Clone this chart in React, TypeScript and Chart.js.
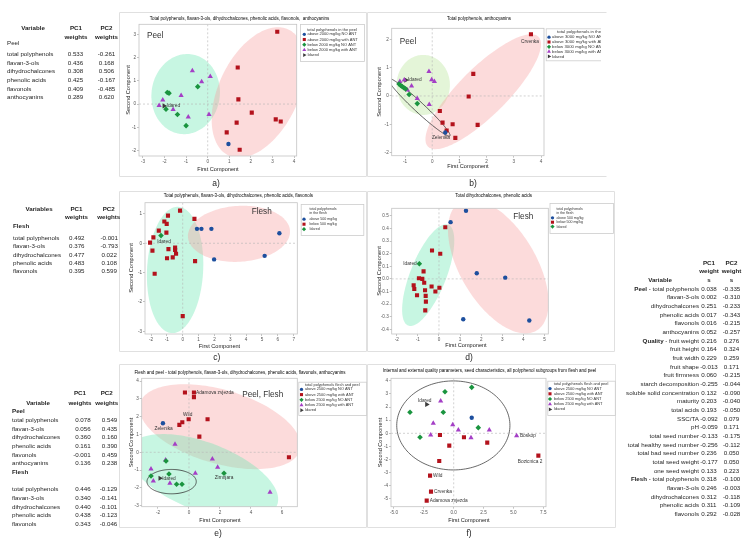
import React, { useEffect, useRef } from 'react';
import { Chart, registerables } from 'chart.js';

Chart.register(...registerables);

type Pt = [number, number];

const W = 751;
const H = 545;
const CF = '"Liberation Sans", Arial, sans-serif';
const TF = '"Liberation Sans", Arial, sans-serif';

const BLUE = '#1d4f9e';
const RED = '#b3121c';
const GREEN = '#1a943f';
const PURPLE = '#a43fc6';
const DARK = '#3b3b3b';
const FILL_GREEN = 'rgba(108, 232, 178, 0.38)';
const FILL_RED = 'rgba(248, 160, 160, 0.38)';
const FILL_LIME = 'rgba(196, 232, 168, 0.45)';

// ---------------- Panel a: peel, all polyphenols ----------------
const aAboveNoAnt: Pt[] = [[0.96, -1.72]];
const aAboveAnt: Pt[] = [[3.22, 3.12], [1.39, 1.58], [1.42, 0.2], [2.04, -0.37], [1.34, -0.8], [3.15, -0.66], [3.38, -0.75], [0.88, -1.22], [1.48, -1.97]];
const aBelowNoAnt: Pt[] = [[-1.87, 0.5], [-1.79, 0.47], [-0.46, 0.75], [-1.93, -0.22], [-1.4, -0.45], [-1.0, -0.93]];
const aBelowAnt: Pt[] = [[-0.71, 1.44], [-0.28, 0.96], [0.12, 1.19], [-1.23, 0.37], [-2.08, 0.17], [-2.25, -0.06], [-1.6, -0.23], [-0.9, -0.56], [0.06, -0.45]];
const aIdared: Pt[] = [[-2.02, -0.08]];
const aXTicks = [-3, -2, -1, 0, 1, 2, 3, 4];
const aYTicks = [-2, -1, 0, 1, 2, 3];
const aLegend = ['above 2000 mg/kg NO ANT', 'above 2000 mg/kg with ANT', 'below 2000 mg/kg NO ANT', 'below 2000 mg/kg with ANT', 'Idared'];

// ---------------- Panel b: peel, total polyphenols + anthocyanins ----------------
const bAboveNoAnt: Pt[] = [[0.48, -1.29]];
const bAboveAnt: Pt[] = [[3.63, 2.18], [1.51, 0.78], [1.34, -0.02], [0.28, -0.53], [0.38, -0.94], [0.75, -1.0], [1.67, -1.02], [0.53, -1.22], [0.85, -1.48]];
const bBelowNoAnt: Pt[] = [[-1.22, 0.42], [-1.16, 0.37], [-1.1, 0.33], [-1.04, 0.29], [-0.98, 0.25], [-0.85, 0.05], [-0.55, -0.27]];
const bBelowAnt: Pt[] = [[-1.19, 0.51], [-1.03, 0.56], [-0.91, 0.21], [-0.76, 0.35], [-0.12, 0.86], [-0.02, 0.57], [0.08, 0.51], [-0.55, -0.09], [-0.11, -0.3]];
const bIdared: Pt[] = [[-0.97, 0.56]];
const bXTicks = [-1, 0, 1, 2, 3, 4];
const bYTicks = [-2, -1, 0, 1, 2];
const bLegend = ['above 3000 mg/kg NO ANT', 'above 3000 mg/kg with ANT', 'below 3000 mg/kg NO ANT', 'below 3000 mg/kg with ANT', 'Idared'];

// ---------------- Panel c: flesh, all polyphenols ----------------
const cAbove: Pt[] = [[0.9, 0.49], [1.18, 0.49], [1.81, 0.49], [6.1, 0.34], [1.98, -0.55], [5.17, -0.43]];
const cBelow: Pt[] = [[-0.17, 1.11], [-0.93, 0.94], [-1.16, 0.74], [-1.01, 0.66], [0.74, 0.83], [-1.51, 0.43], [-1.03, 0.36], [-1.85, 0.2], [-2.06, 0.02], [-1.91, -0.25], [-0.9, -0.2], [-0.48, -0.15], [-0.48, -0.23], [-0.42, -0.36], [-0.63, -0.48], [-0.99, -0.51], [0.78, -0.61], [-1.77, -1.04], [0.0, -2.48]];
const cIdared: Pt[] = [[-1.37, 0.26]];
const cXTicks = [-2, -1, 0, 1, 2, 3, 4, 5, 6, 7];
const cYTicks = [-3, -2, -1, 0, 1];
const cLegend = ['above 500 mg/kg', 'below 500 mg/kg', 'Idared'];

// ---------------- Panel d: flesh, dihydrochalcones + phenolic acids ----------------
const dAbove: Pt[] = [[1.28, 0.54], [0.55, 0.45], [1.79, 0.045], [3.14, 0.01], [1.15, -0.32], [4.28, -0.33]];
const dBelow: Pt[] = [[0.3, 0.41], [-0.33, 0.225], [0.06, 0.2], [-0.73, 0.06], [-0.95, 0.005], [-0.79, 0.0], [-0.7, -0.03], [-1.2, -0.05], [-1.17, -0.08], [-0.35, -0.06], [0.02, -0.07], [-0.66, -0.09], [-0.17, -0.1], [-1.04, -0.13], [-0.63, -0.135], [-0.62, -0.18], [-0.65, -0.25]];
const dIdared: Pt[] = [[-0.93, 0.12]];
const dXTicks = [-2, -1, 0, 1, 2, 3, 4, 5];
const dYTicks = [-0.4, -0.3, -0.2, -0.1, 0, 0.1, 0.2, 0.3, 0.4, 0.5];

// ---------------- Panel e: flesh and peel ----------------
const eAboveNoAnt: Pt[] = [[-1.68, 1.63]];
const eAboveAnt: Pt[] = [[-0.26, 3.36], [0.32, 3.36], [0.32, 3.1], [-0.02, 1.86], [-0.43, 1.69], [-0.62, 1.54], [1.2, 1.86], [0.67, 0.88], [6.45, -0.28]];
const eBelowNoAnt: Pt[] = [[-1.48, -0.49], [-2.45, -1.33], [-1.29, -1.22], [-0.8, -1.8], [-0.45, -1.8], [2.26, -1.18]];
const eBelowAnt: Pt[] = [[-0.9, 0.45], [-1.51, -0.43], [-2.45, -0.94], [-2.3, -1.61], [-1.23, -1.74], [0.41, -1.18], [1.51, -0.38], [1.85, -0.84], [5.23, -2.25]];
const eIdared: Pt[] = [[-1.87, -1.46]];
const eXTicks = [-2, 0, 2, 4, 6];
const eYTicks = [-3, -2, -1, 0, 1, 2, 3, 4];
const efLegend = ['above 2500 mg/kg NO ANT', 'above 2500 mg/kg with ANT', 'below 2500 mg/kg NO ANT', 'below 2500 mg/kg with ANT', 'Idared'];

// ---------------- Panel f: quality + seeds + polyphenols ----------------
const fAboveNoAnt: Pt[] = [[1.51, 1.19]];
const fAboveAnt: Pt[] = [[-1.15, -0.13], [-1.21, -2.11], [-1.98, -3.22], [-1.9, -4.44], [-2.26, -5.13], [0.86, -0.3], [-0.37, -0.94], [2.81, -0.71], [7.09, -1.7]];
const fBelowNoAnt: Pt[] = [[-3.66, 1.6], [-2.82, -0.3], [-0.87, 1.6], [-0.73, 3.17], [1.51, 3.5], [2.06, 0.43]];
const fBelowAnt: Pt[] = [[-1.09, 2.46], [-1.71, 0.76], [-1.93, -0.13], [-0.08, 0.65], [0.39, 0.25], [2.98, 0.25], [1.45, -0.33], [5.27, -0.18]];
const fIdared: Pt[] = [[-2.26, 2.2]];
const fXTicks = [-5, -2.5, 0, 2.5, 5, 7.5];
const fYTicks = [-5, -4, -3, -2, -1, 0, 1, 2, 3, 4];

// ---------------- Tables ----------------
const peelVars = ['total polyphenols', 'flavan-3-ols', 'dihydrochalcones', 'phenolic acids', 'flavonols', 'anthocyanins'];
const fleshVars = ['total polyphenols', 'flavan-3-ols', 'dihydrochalcones', 'phenolic acids', 'flavonols'];
const t1PC1 = [0.533, 0.436, 0.308, 0.425, 0.409, 0.289];
const t1PC2 = [-0.261, 0.168, 0.506, -0.167, -0.485, 0.62];
const t2PC1 = [0.492, 0.376, 0.477, 0.483, 0.395];
const t2PC2 = [-0.001, -0.793, 0.022, 0.108, 0.599];
const t3PeelPC1 = [0.078, 0.056, 0.36, 0.161, -0.001, 0.136];
const t3PeelPC2 = [0.549, 0.435, 0.16, 0.39, 0.459, 0.238];
const t3FleshPC1 = [0.446, 0.34, 0.44, 0.438, 0.343];
const t3FleshPC2 = [-0.129, -0.141, -0.101, -0.123, -0.046];
const qualityVars = ['fruit weight', 'fruit height', 'fruit width', 'fruit shape', 'fruit firmness', 'starch decomposition', 'soluble solid concentration', 'maturity', 'total acids', 'SSC/TA', 'pH', 'total seed number', 'total healthy seed number', 'total bad seed number', 'total seed weight', 'one seed weight'];
const t4PeelPC1 = [0.038, 0.002, 0.251, 0.017, 0.016, 0.052];
const t4PeelPC2 = [-0.335, -0.31, -0.233, -0.343, -0.215, -0.257];
const t4QualPC1 = [0.216, 0.164, 0.229, -0.013, 0.06, -0.255, 0.132, 0.203, 0.193, -0.092, -0.059, -0.133, -0.256, 0.236, -0.177, 0.133];
const t4QualPC2 = [0.276, 0.324, 0.259, 0.171, -0.215, -0.044, -0.09, -0.04, -0.05, 0.079, 0.171, -0.175, -0.112, 0.05, 0.05, 0.223];
const t4FleshPC1 = [0.318, 0.246, 0.312, 0.311, 0.292];
const t4FleshPC2 = [-0.1, -0.003, -0.118, -0.109, -0.028];

// ---------------- types / helpers ----------------
interface Series { data: Pt[]; color: string; shape: string; r: number }
interface Ell { c: Pt; a: Pt; b: Pt; fill?: string; stroke?: string }
interface Lbl { at: Pt; text: string; dx: number; dy: number; align: CanvasTextAlign }
interface Leg {
  box: [number, number, number, number]; clipR?: number;
  title: string[]; titleAlign: 'center' | 'left'; titleY: number; titleLH: number;
  itemY: number; lh: number; mX: number; tX: number; fs: number;
  items: { label: string; color: string; shape: string }[];
}
interface Panel {
  frame: [number, number, number, number]; clipR?: number;
  area: [number, number, number, number];
  xr: Pt; yr: Pt; xt: number[]; yt: number[]; xd: number; yd: number;
  title: string; tx: number; ty: number;
  xtx: number; xty: number; ytx: number; yty: number;
  series: Series[]; ells: Ell[]; lbls: Lbl[];
  big: { text: string; at: Pt };
  legend: Leg;
}

const rFor = (shape: string) => (shape === 'rect' ? 2.9 : shape === 'circle' ? 2.2 : shape === 'rectRot' ? 2.8 : 3.0);
const S = (data: Pt[], color: string, shape: string): Series => ({ data, color, shape, r: rFor(shape) });

function marker(ctx: CanvasRenderingContext2D, shape: string, x: number, y: number, r: number, color: string) {
  ctx.fillStyle = color;
  ctx.beginPath();
  if (shape === 'circle') ctx.arc(x, y, r, 0, Math.PI * 2);
  else if (shape === 'rect') { const s = r * Math.SQRT1_2; ctx.rect(x - s, y - s, 2 * s, 2 * s); }
  else if (shape === 'rectRot') { ctx.moveTo(x, y - r); ctx.lineTo(x + r, y); ctx.lineTo(x, y + r); ctx.lineTo(x - r, y); ctx.closePath(); }
  else {
    let rad = shape === 'triR' ? Math.PI / 2 : 0;
    for (let i = 0; i < 3; i++) {
      const px = x + Math.sin(rad) * r, py = y - Math.cos(rad) * r;
      if (i === 0) ctx.moveTo(px, py); else ctx.lineTo(px, py);
      rad += (2 * Math.PI) / 3;
    }
    ctx.closePath();
  }
  ctx.fill();
}

function txt(ctx: CanvasRenderingContext2D, s: string, x: number, y: number, size: number, align: CanvasTextAlign = 'center', color = '#222', weight = '') {
  ctx.font = `${weight ? weight + ' ' : ''}${size}px ${CF}`;
  ctx.fillStyle = color;
  ctx.textAlign = align;
  ctx.textBaseline = 'middle';
  ctx.fillText(s, x, y);
}

function decor(p: Panel) {
  return {
    id: 'decor',
    beforeDraw(chart: any) {
      const ctx: CanvasRenderingContext2D = chart.ctx;
      const [fx, fy, fw, fh] = p.frame;
      ctx.save();
      ctx.strokeStyle = '#e0e0e0';
      ctx.lineWidth = 1;
      ctx.beginPath();
      ctx.moveTo(fx + fw - 0.5, fy + 0.5);
      ctx.lineTo(fx + 0.5, fy + 0.5);
      ctx.lineTo(fx + 0.5, fy + fh - 0.5);
      ctx.lineTo(fx + fw - 0.5, fy + fh - 0.5);
      if (!p.clipR) ctx.lineTo(fx + fw - 0.5, fy + 0.5);
      ctx.stroke();
      ctx.restore();
    },
    beforeDatasetsDraw(chart: any) {
      const ctx: CanvasRenderingContext2D = chart.ctx;
      const a = chart.chartArea;
      const xs = chart.scales.x, ys = chart.scales.y;
      ctx.save();
      ctx.beginPath();
      ctx.rect(a.left, a.top, a.right - a.left, a.bottom - a.top);
      ctx.clip();
      for (const e of p.ells) {
        ctx.beginPath();
        const n = 144;
        for (let i = 0; i <= n; i++) {
          const t = (i / n) * Math.PI * 2;
          const vx = e.c[0] + e.a[0] * Math.cos(t) + e.b[0] * Math.sin(t);
          const vy = e.c[1] + e.a[1] * Math.cos(t) + e.b[1] * Math.sin(t);
          const px = xs.getPixelForValue(vx), py = ys.getPixelForValue(vy);
          if (i === 0) ctx.moveTo(px, py); else ctx.lineTo(px, py);
        }
        ctx.closePath();
        if (e.fill) { ctx.fillStyle = e.fill; ctx.fill(); }
        if (e.stroke) { ctx.strokeStyle = e.stroke; ctx.lineWidth = 0.8; ctx.stroke(); }
      }
      const x0 = xs.getPixelForValue(0), y0 = ys.getPixelForValue(0);
      ctx.setLineDash([2, 2]);
      ctx.strokeStyle = '#b4b4b4';
      ctx.lineWidth = 0.6;
      ctx.beginPath();
      ctx.moveTo(x0, a.top); ctx.lineTo(x0, a.bottom);
      ctx.moveTo(a.left, y0); ctx.lineTo(a.right, y0);
      ctx.stroke();
      ctx.restore();
    },
    afterDatasetsDraw(chart: any) {
      const ctx: CanvasRenderingContext2D = chart.ctx;
      const xs = chart.scales.x, ys = chart.scales.y;
      ctx.save();
      for (const l of p.lbls) {
        const px = xs.getPixelForValue(l.at[0]), py = ys.getPixelForValue(l.at[1]);
        txt(ctx, l.text, px + l.dx, py + l.dy, 4.8, l.align, '#333');
      }
      if (p.big.text) txt(ctx, p.big.text, xs.getPixelForValue(p.big.at[0]), ys.getPixelForValue(p.big.at[1]), 8.2, 'left', '#333');
      ctx.restore();
    },
    afterDraw(chart: any) {
      const ctx: CanvasRenderingContext2D = chart.ctx;
      const a = chart.chartArea;
      ctx.save();
      ctx.strokeStyle = '#c4c4c4';
      ctx.lineWidth = 0.8;
      ctx.strokeRect(a.left, a.top, a.right - a.left, a.bottom - a.top);
      txt(ctx, p.title, p.tx, p.ty, 4.5, 'center', '#000');
      txt(ctx, 'First Component', p.xtx, p.xty, 5.6, 'center', '#222');
      ctx.save();
      ctx.translate(p.ytx, p.yty);
      ctx.rotate(-Math.PI / 2);
      txt(ctx, 'Second Component', 0, 0, 5.6, 'center', '#222');
      ctx.restore();
      const lg = p.legend;
      if (lg.clipR) { ctx.beginPath(); ctx.rect(0, 0, lg.clipR, H); ctx.clip(); }
      const [bx, by, bw, bh] = lg.box;
      ctx.strokeStyle = '#cdcdcd';
      ctx.lineWidth = 0.8;
      ctx.strokeRect(bx + 0.5, by + 0.5, bw, bh);
      lg.title.forEach((t, i) => txt(ctx, t, lg.titleAlign === 'center' ? bx + bw / 2 : lg.tX, lg.titleY + i * lg.titleLH, lg.fs, lg.titleAlign === 'center' ? 'center' : 'left', '#333'));
      lg.items.forEach((it, i) => {
        const yy = lg.itemY + i * lg.lh;
        marker(ctx, it.shape, lg.mX, yy, rFor(it.shape) * 0.75, it.color);
        txt(ctx, it.label, lg.tX, yy, lg.fs, 'left', '#333');
      });
      ctx.restore();
    },
  };
}

const fiveItems = (labels: string[]) => [
  { label: labels[0], color: BLUE, shape: 'circle' },
  { label: labels[1], color: RED, shape: 'rect' },
  { label: labels[2], color: GREEN, shape: 'rectRot' },
  { label: labels[3], color: PURPLE, shape: 'triangle' },
  { label: labels[4], color: DARK, shape: 'triR' },
];
const threeItems = (labels: string[]) => [
  { label: labels[0], color: BLUE, shape: 'circle' },
  { label: labels[1], color: RED, shape: 'rect' },
  { label: labels[2], color: GREEN, shape: 'rectRot' },
];

const PANELS: Panel[] = [
  {
    frame: [119, 12, 248, 165], area: [139, 24.3, 296.7, 156],
    xr: [-3.18, 4.12], yr: [-2.24, 3.44], xt: aXTicks, yt: aYTicks, xd: 0, yd: 0,
    title: 'Total polyphenols, flavan-3-ols, dihydrochalcones, phenolic acids, flavonols,  anthocyanins', tx: 239.5, ty: 18.3,
    xtx: 218, xty: 169.3, ytx: 128.3, yty: 90,
    series: [S(aAboveNoAnt, BLUE, 'circle'), S(aAboveAnt, RED, 'rect'), S(aBelowNoAnt, GREEN, 'rectRot'), S(aBelowAnt, PURPLE, 'triangle'), S(aIdared, DARK, 'triR')],
    ells: [
      { c: [-1.02, 0.43], a: [0.23, 1.72], b: [1.57, -0.17], fill: FILL_GREEN },
      { c: [2.35, 0.5], a: [1.38, 2.72], b: [1.67, -0.73], fill: FILL_RED },
    ],
    lbls: [{ at: aIdared[0], text: 'Idared', dx: 2.5, dy: 0, align: 'left' }],
    big: { text: 'Peel', at: [-2.81, 2.94] },
    legend: { box: [300, 24, 64, 37], title: ['total polyphenols in the peel'], titleAlign: 'center', titleY: 29.5, titleLH: 4, itemY: 34.3, lh: 5.2, mX: 304.3, tX: 307.5, fs: 4.0, items: fiveItems(aLegend) },
  },
  {
    frame: [367, 12, 240, 165], clipR: 601, area: [391.7, 28.3, 544, 155.7],
    xr: [-1.49, 4.11], yr: [-2.11, 2.39], xt: bXTicks, yt: bYTicks, xd: 0, yd: 0,
    title: 'Total polyphenols, anthocyanins', tx: 479, ty: 18.3,
    xtx: 468, xty: 166.7, ytx: 379.3, yty: 92,
    series: [S(bAboveNoAnt, BLUE, 'circle'), S(bAboveAnt, RED, 'rect'), S(bBelowNoAnt, GREEN, 'rectRot'), S(bBelowAnt, PURPLE, 'triangle'), S(bIdared, DARK, 'triR')],
    ells: [
      { c: [-0.33, 0.39], a: [0, 1.06], b: [0.98, 0], fill: FILL_LIME },
      { c: [1.875, 0.15], a: [2.03, 1.94], b: [0.625, -0.596], fill: FILL_RED },
      { c: [-0.485, -0.395], a: [1.135, -1.015], b: [0.125, 0.129], stroke: '#333' },
    ],
    lbls: [
      { at: bAboveAnt[0], text: 'Crvenka', dx: -1, dy: 7, align: 'center' },
      { at: bAboveNoAnt[0], text: 'Zelenika', dx: -4.3, dy: 5.3, align: 'center' },
      { at: bIdared[0], text: 'Idared', dx: 2.2, dy: 0, align: 'left' },
    ],
    big: { text: 'Peel', at: [-1.19, 1.92] },
    legend: { box: [545.7, 28.3, 76, 32], clipR: 601, title: ['total polyphenols in the peel'], titleAlign: 'center', titleY: 32.3, titleLH: 4, itemY: 37.2, lh: 4.8, mX: 549, tX: 552, fs: 4.3, items: fiveItems(bLegend) },
  },
  {
    frame: [119, 191, 248, 161], area: [145, 202.7, 297.3, 334],
    xr: [-2.38, 7.23], yr: [-3.09, 1.38], xt: cXTicks, yt: cYTicks, xd: 0, yd: 0,
    title: 'Total polyphenols, flavan-3-ols, dihydrochalcones, phenolic acids, flavonols', tx: 238.3, ty: 195.7,
    xtx: 219.5, xty: 346, ytx: 131.7, yty: 268,
    series: [S(cAbove, BLUE, 'circle'), S(cBelow, RED, 'rect'), S(cIdared, GREEN, 'rectRot')],
    ells: [
      { c: [-0.48, -0.91], a: [0.19, 2.15], b: [1.77, -0.03], fill: FILL_GREEN },
      { c: [3.55, 0.32], a: [3.22, 0.1], b: [0.09, -0.95], fill: FILL_RED },
    ],
    lbls: [{ at: cIdared[0], text: 'Idared', dx: 3, dy: 6, align: 'center' }],
    big: { text: 'Flesh', at: [4.35, 1.06] },
    legend: { box: [300.7, 204, 62.6, 31], title: ['total polyphenols', 'in the flesh'], titleAlign: 'left', titleY: 209.3, titleLH: 4, itemY: 219.2, lh: 5, mX: 304, tX: 309.5, fs: 3.6, items: threeItems(cLegend) },
  },
  {
    frame: [367, 191, 248, 161], area: [391.7, 208.3, 548.3, 334],
    xr: [-2.24, 5.18], yr: [-0.437, 0.56], xt: dXTicks, yt: dYTicks, xd: 0, yd: 1,
    title: 'Total dihydrochalcones, phenolic acids', tx: 493.7, ty: 195.7,
    xtx: 466, xty: 345, ytx: 379.3, yty: 271,
    series: [S(dAbove, BLUE, 'circle'), S(dBelow, RED, 'rect'), S(dIdared, GREEN, 'rectRot')],
    ells: [
      { c: [-0.51, 0.03], a: [0.95, 0.4], b: [0.79, -0.053], fill: FILL_GREEN },
      { c: [2.81, 0.1], a: [-1.81, 0.51], b: [1.55, 0.153], fill: FILL_RED },
    ],
    lbls: [{ at: dIdared[0], text: 'Idared', dx: -2.6, dy: 0, align: 'right' }],
    big: { text: 'Flesh', at: [3.52, 0.49] },
    legend: { box: [549.5, 203, 63.5, 30], title: ['total polyphenols', 'in the flesh'], titleAlign: 'left', titleY: 208.6, titleLH: 4, itemY: 217.8, lh: 4.4, mX: 552.5, tX: 556.5, fs: 3.5, items: threeItems(cLegend) },
  },
  {
    frame: [119, 364, 248, 164], area: [141.7, 378.3, 297.3, 506.7],
    xr: [-3.05, 6.99], yr: [-3.06, 4.16], xt: eXTicks, yt: eYTicks, xd: 0, yd: 0,
    title: 'Flesh and peel - total polyphenols, flavan-3-ols, dihydrochalcones, phenolic acids, flavonols, anthocyanins', tx: 240, ty: 372.7,
    xtx: 220, xty: 520, ytx: 131, yty: 442.5,
    series: [S(eAboveNoAnt, BLUE, 'circle'), S(eAboveAnt, RED, 'rect'), S(eBelowNoAnt, GREEN, 'rectRot'), S(eBelowAnt, PURPLE, 'triangle'), S(eIdared, DARK, 'triR')],
    ells: [
      { c: [2.0, 1.44], a: [-5.16, 1.32], b: [0.67, 1.99], fill: FILL_RED },
      { c: [0.92, -1.37], a: [4.77, -1.59], b: [0.79, 1.79], fill: FILL_GREEN },
      { c: [-1.12, -1.65], a: [1.59, 0], b: [0, 0.685], stroke: '#333' },
    ],
    lbls: [
      { at: eAboveAnt[1], text: 'Adamova zvjezda', dx: 2, dy: 0, align: 'left' },
      { at: eAboveAnt[3], text: 'Wild', dx: -1, dy: -4.6, align: 'center' },
      { at: eAboveNoAnt[0], text: 'Zelenika', dx: 0.7, dy: 5.7, align: 'center' },
      { at: eBelowNoAnt[5], text: 'Zimnjara', dx: 0, dy: 4.6, align: 'center' },
      { at: eIdared[0], text: 'Idared', dx: 2.2, dy: 0.4, align: 'left' },
    ],
    big: { text: 'Peel, Flesh', at: [3.44, 3.26] },
    legend: { box: [298.3, 381.7, 68, 33.3], title: ['total polyphenols flesh and peel'], titleAlign: 'center', titleY: 384.6, titleLH: 4, itemY: 389.4, lh: 5.2, mX: 301.5, tX: 305, fs: 3.9, items: fiveItems(efLegend) },
  },
  {
    frame: [367, 364, 249, 164], area: [391, 378.3, 546, 506.7],
    xr: [-5.25, 7.73], yr: [-5.59, 4.19], xt: fXTicks, yt: fYTicks, xd: 1, yd: 0,
    title: 'Internal and external quality parameters, seed characteristics, all polyphenol subgroups from flesh and peel', tx: 489.5, ty: 371,
    xtx: 469, xty: 520.7, ytx: 380, yty: 442.5,
    series: [S(fAboveNoAnt, BLUE, 'circle'), S(fAboveAnt, RED, 'rect'), S(fBelowNoAnt, GREEN, 'rectRot'), S(fBelowAnt, PURPLE, 'triangle'), S(fIdared, DARK, 'triR')],
    ells: [{ c: [-0.03, 0.6], a: [4.74, 0], b: [0, 3.39], stroke: '#444' }],
    lbls: [
      { at: fIdared[0], text: 'Idared', dx: -2, dy: -4.2, align: 'center' },
      { at: fAboveAnt[2], text: 'Wild', dx: 3, dy: 0, align: 'left' },
      { at: fAboveAnt[3], text: 'Crvenka', dx: 3, dy: 0, align: 'left' },
      { at: fAboveAnt[4], text: 'Adamova zvjezda', dx: 3, dy: 0, align: 'left' },
      { at: fBelowAnt[7], text: 'Boskop', dx: 3.3, dy: 0, align: 'left' },
      { at: fAboveAnt[8], text: 'Bozicnica 2', dx: -8.3, dy: 6, align: 'center' },
    ],
    big: { text: '', at: [0, 0] },
    legend: { box: [547.3, 380.7, 67.5, 34.3], title: ['total polyphenols flesh and peel'], titleAlign: 'center', titleY: 383.6, titleLH: 4, itemY: 388.6, lh: 5.2, mX: 550, tX: 554, fs: 3.9, items: fiveItems(efLegend) },
  },
];

function PanelChart({ p }: { p: Panel }) {
  const ref = useRef<HTMLCanvasElement>(null);
  useEffect(() => {
    const cv = ref.current;
    if (!cv) return;
    const WY = 20, HX = 12;
    const [L, T, R, B] = p.area;
    const tickFont = { family: CF, size: 4.6 };
    const grid = { display: true, drawOnChartArea: false, drawTicks: true, tickLength: 2, color: '#9a9a9a', lineWidth: 0.6 };
    const chart = new Chart(cv, {
      type: 'scatter',
      data: {
        datasets: p.series.map((s) => ({
          data: s.data.map(([x, y]) => ({ x, y })),
          pointStyle: s.shape === 'triR' ? 'triangle' : s.shape,
          pointRotation: s.shape === 'triR' ? 90 : 0,
          pointRadius: s.r,
          pointBackgroundColor: s.color,
          pointBorderColor: s.color,
          pointBorderWidth: 0,
          showLine: false,
        })),
      },
      options: {
        responsive: false,
        animation: false,
        devicePixelRatio: 1,
        events: [],
        layout: { padding: { left: L - WY, top: T, right: W - R, bottom: H - B - HX } },
        plugins: { legend: { display: false }, tooltip: { enabled: false }, title: { display: false } },
        scales: {
          x: {
            type: 'linear', min: p.xr[0], max: p.xr[1],
            afterFit: (s: any) => { s.height = HX; },
            afterBuildTicks: (s: any) => { s.ticks = p.xt.map((v) => ({ value: v })); },
            ticks: { font: tickFont, color: '#555', padding: 1, maxRotation: 0, autoSkip: false, callback: (v: any) => Number(v).toFixed(p.xd) },
            grid, border: { display: false },
          },
          y: {
            type: 'linear', min: p.yr[0], max: p.yr[1],
            afterFit: (s: any) => { s.width = WY; },
            afterBuildTicks: (s: any) => { s.ticks = p.yt.map((v) => ({ value: v })); },
            ticks: { font: tickFont, color: '#555', padding: 1, autoSkip: false, callback: (v: any) => Number(v).toFixed(p.yd) },
            grid, border: { display: false },
          },
        },
      } as any,
      plugins: [decor(p) as any],
    });
    return () => chart.destroy();
  }, [p]);
  return <canvas ref={ref} width={W} height={H} style={{ position: 'absolute', left: 0, top: 0, width: W, height: H }} />;
}

function Tx({ x, y, a = 'l', b = false, fs = 6.2, children }: { x: number; y: number; a?: string; b?: boolean; fs?: number; children: any }) {
  const tx = a === 'c' ? '-50%' : a === 'r' ? '-100%' : '0';
  return (
    <div style={{ position: 'absolute', left: x, top: y, transform: `translate(${tx}, -50%)`, fontFamily: TF, fontSize: fs, lineHeight: 1, whiteSpace: 'nowrap', fontWeight: b ? 700 : 400, color: '#262626' }}>
      {children}
    </div>
  );
}

const f3 = (v: number) => v.toFixed(3);

function Tables() {
  const els: any[] = [];
  // table 1 (a)
  els.push(<Tx key="t1h1" x={33} y={28.3} a="c" b>Variable</Tx>);
  els.push(<Tx key="t1h2" x={76} y={28.3} a="c" b>PC1</Tx>);
  els.push(<Tx key="t1h3" x={76} y={37} a="c" b>weights</Tx>);
  els.push(<Tx key="t1h4" x={106.5} y={28.3} a="c" b>PC2</Tx>);
  els.push(<Tx key="t1h5" x={106.5} y={37} a="c" b>weights</Tx>);
  els.push(<Tx key="t1p" x={7} y={43.3}>Peel</Tx>);
  peelVars.forEach((v, i) => {
    const y = 54 + i * 8.67;
    els.push(<Tx key={'t1l' + i} x={7} y={y}>{v}</Tx>);
    els.push(<Tx key={'t1a' + i} x={75.5} y={y} a="c">{f3(t1PC1[i])}</Tx>);
    els.push(<Tx key={'t1b' + i} x={106.5} y={y} a="c">{f3(t1PC2[i])}</Tx>);
  });
  // table 2 (c)
  els.push(<Tx key="t2h1" x={39} y={209.3} a="c" b>Variables</Tx>);
  els.push(<Tx key="t2h2" x={76.5} y={209.3} a="c" b>PC1</Tx>);
  els.push(<Tx key="t2h3" x={76.5} y={217.3} a="c" b>weights</Tx>);
  els.push(<Tx key="t2h4" x={108.7} y={209.3} a="c" b>PC2</Tx>);
  els.push(<Tx key="t2h5" x={108.7} y={217.3} a="c" b>weights</Tx>);
  els.push(<Tx key="t2f" x={13} y={226} b>Flesh</Tx>);
  fleshVars.forEach((v, i) => {
    const y = 237.7 + i * 8.42;
    els.push(<Tx key={'t2l' + i} x={13} y={y}>{v}</Tx>);
    els.push(<Tx key={'t2a' + i} x={76.8} y={y} a="c">{f3(t2PC1[i])}</Tx>);
    els.push(<Tx key={'t2b' + i} x={109.2} y={y} a="c">{f3(t2PC2[i])}</Tx>);
  });
  // table 3 (e)
  els.push(<Tx key="t3h1" x={80} y={393.3} a="c" b>PC1</Tx>);
  els.push(<Tx key="t3h2" x={80} y={402.7} a="c" b>weights</Tx>);
  els.push(<Tx key="t3h3" x={106.7} y={393.3} a="c" b>PC2</Tx>);
  els.push(<Tx key="t3h4" x={106.7} y={402.7} a="c" b>weights</Tx>);
  els.push(<Tx key="t3h5" x={38} y={402.7} a="c" b>Variable</Tx>);
  els.push(<Tx key="t3p" x={12} y={411.3} b>Peel</Tx>);
  peelVars.forEach((v, i) => {
    const y = 420 + i * 8.67;
    els.push(<Tx key={'t3l' + i} x={12} y={y}>{v}</Tx>);
    els.push(<Tx key={'t3a' + i} x={90.7} y={y} a="r">{f3(t3PeelPC1[i])}</Tx>);
    els.push(<Tx key={'t3b' + i} x={117.3} y={y} a="r">{f3(t3PeelPC2[i])}</Tx>);
  });
  els.push(<Tx key="t3f" x={12} y={472} b>Flesh</Tx>);
  fleshVars.forEach((v, i) => {
    const y = 489.3 + i * 8.67;
    els.push(<Tx key={'t3m' + i} x={12} y={y}>{v}</Tx>);
    els.push(<Tx key={'t3c' + i} x={90.7} y={y} a="r">{f3(t3FleshPC1[i])}</Tx>);
    els.push(<Tx key={'t3d' + i} x={117.3} y={y} a="r">{f3(t3FleshPC2[i])}</Tx>);
  });
  // table 4 (f)
  els.push(<Tx key="t4h1" x={709} y={262.7} a="c" b>PC1</Tx>);
  els.push(<Tx key="t4h2" x={709} y={271.3} a="c" b>weight</Tx>);
  els.push(<Tx key="t4h3" x={709} y={280} a="c" b>s</Tx>);
  els.push(<Tx key="t4h4" x={731.5} y={262.7} a="c" b>PC2</Tx>);
  els.push(<Tx key="t4h5" x={731.5} y={271.3} a="c" b>weight</Tx>);
  els.push(<Tx key="t4h6" x={731.5} y={280} a="c" b>s</Tx>);
  els.push(<Tx key="t4h7" x={660} y={280} a="c" b>Variable</Tx>);
  const rows: { pre?: string; label: string; p1: number; p2: number }[] = [];
  peelVars.forEach((v, i) => rows.push({ pre: i === 0 ? 'Peel' : undefined, label: v, p1: t4PeelPC1[i], p2: t4PeelPC2[i] }));
  qualityVars.forEach((v, i) => rows.push({ pre: i === 0 ? 'Quality' : undefined, label: v, p1: t4QualPC1[i], p2: t4QualPC2[i] }));
  fleshVars.forEach((v, i) => rows.push({ pre: i === 0 ? 'Flesh' : undefined, label: v, p1: t4FleshPC1[i], p2: t4FleshPC2[i] }));
  rows.forEach((r, i) => {
    const y = 288.7 + i * 8.67;
    els.push(
      <Tx key={'t4l' + i} x={699} y={y} a="r">
        {r.pre ? <b>{r.pre}</b> : null}
        {r.pre ? ' - ' : ''}
        {r.label}
      </Tx>
    );
    els.push(<Tx key={'t4a' + i} x={709} y={y} a="c">{f3(r.p1)}</Tx>);
    els.push(<Tx key={'t4b' + i} x={731.5} y={y} a="c">{f3(r.p2)}</Tx>);
  });
  return <>{els}</>;
}

const panelLetters: { t: string; x: number; y: number }[] = [
  { t: 'a)', x: 216, y: 183 },
  { t: 'b)', x: 473, y: 183 },
  { t: 'c)', x: 216.7, y: 357 },
  { t: 'd)', x: 469, y: 357 },
  { t: 'e)', x: 218, y: 533 },
  { t: 'f)', x: 469, y: 533 },
];

export default function App() {
  return (
    <div style={{ position: 'absolute', left: 0, top: 0, width: W, height: H, background: '#fff', overflow: 'hidden' }}>
      {PANELS.map((p, i) => (
        <PanelChart key={i} p={p} />
      ))}
      <Tables />
      {panelLetters.map((l) => (
        <Tx key={l.t} x={l.x} y={l.y} a="c" fs={8.5}>{l.t}</Tx>
      ))}
    </div>
  );
}
